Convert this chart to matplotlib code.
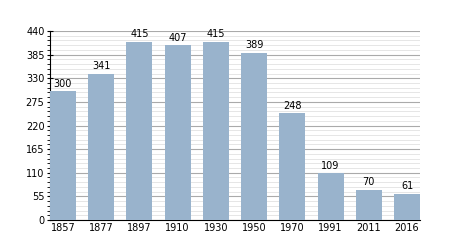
import matplotlib
matplotlib.use('Agg')
import matplotlib.pyplot as plt
import numpy as np

years = ['1857', '1877', '1897', '1910', '1930', '1950', '1970', '1991', '2011', '2016']
pop = [300, 341, 415, 407, 415, 389, 248, 109, 70, 61]

fig = plt.figure(figsize=(4.5, 2.5), dpi=100)
ax = fig.add_axes([50/450, 30/250, 370/450, 189/250])

x = np.arange(len(years))
ax.bar(x, pop, width=0.68, color='#99b3cc', zorder=3)
for xi, v in zip(x, pop):
    ax.text(xi, v + 6, str(v), ha='center', va='bottom', fontsize=7, zorder=4)

ax.set_xlim(-0.34, len(years) - 0.66)
ax.set_ylim(0, 440)
ax.set_yticks(np.arange(0, 441, 55))
ax.set_yticks(np.arange(0, 441, 11), minor=True)
ax.set_xticks(x)
ax.set_xticklabels(years)
ax.tick_params(axis='both', labelsize=7, length=4, width=0.8, pad=2)
ax.tick_params(axis='y', which='major', direction='inout')
ax.tick_params(axis='y', which='minor', length=2, width=0.6)
ax.tick_params(axis='x', length=0)

ax.grid(axis='y', which='major', color='#aaaaaa', linewidth=0.8, zorder=0)
ax.grid(axis='y', which='minor', color='#e2e2e2', linewidth=0.6, zorder=0)
for s in ['top', 'right']:
    ax.spines[s].set_visible(False)
ax.spines['left'].set_linewidth(0.8)
ax.spines['bottom'].set_linewidth(0.8)

plt.savefig('out.png', dpi=100)
